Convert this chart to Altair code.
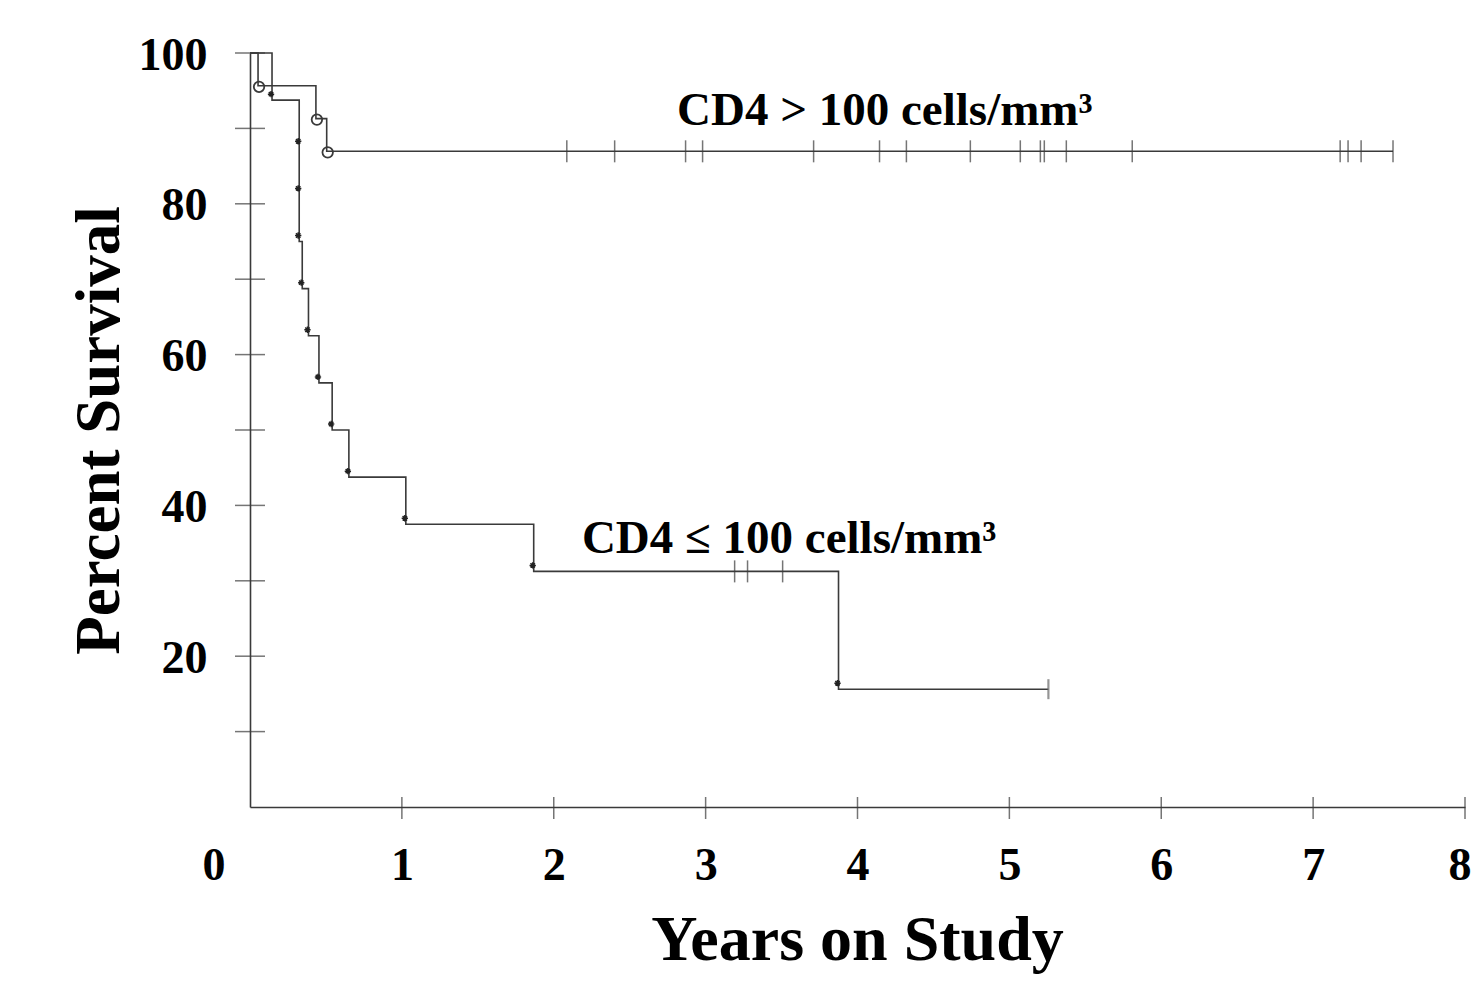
import altair as alt
import pandas as pd

# ---- CD4 > 100 cells/mm3 group ----
hi_time = [0.0, 0.053, 0.434, 0.505, 7.526]
hi_surv = [100.0, 95.65, 91.30, 86.96, 86.96]
hi_death_time = [0.053, 0.434, 0.505]
hi_death_surv = [95.65, 91.30, 86.96]
hi_censor_time = [2.086, 2.401, 2.868, 2.980, 3.711, 4.145, 4.322, 4.743, 5.072,
                  5.204, 5.230, 5.375, 5.809, 7.178, 7.230, 7.316, 7.526]
hi_censor_surv = [86.96] * len(hi_censor_time)

# ---- CD4 <= 100 cells/mm3 group ----
lo_time = [0.0, 0.145, 0.324, 0.344, 0.385, 0.454, 0.541, 0.651, 1.026, 1.868, 3.875, 5.257]
lo_surv = [100.0, 93.75, 75.0, 68.75, 62.5, 56.25, 50.0, 43.75, 37.5, 31.25, 15.625, 15.625]
lo_death_time = [0.145, 0.324, 0.324, 0.324, 0.344, 0.385, 0.454, 0.541, 0.651, 1.026, 1.868, 3.875]
lo_death_surv = [93.75, 87.5, 81.25, 75.0, 68.75, 62.5, 56.25, 50.0, 43.75, 37.5, 31.25, 15.625]
lo_censor_time = [3.191, 3.276, 3.507]
lo_censor_surv = [31.25, 31.25, 31.25]
lo_end_time = [5.257]
lo_end_surv = [15.625]

# ---- axes / annotations ----
x_tick_values = [1, 2, 3, 4, 5, 6, 7, 8]
y_tick_values = [10, 20, 30, 40, 50, 60, 70, 80, 90, 100]
y_label_values = [20, 40, 60, 80, 100]
label_text = ["CD4 > 100 cells/mm³", "CD4 ≤ 100 cells/mm³"]
label_x = [4.18, 3.55]
label_y = [90.4, 33.7]

FONT = "Liberation Serif"
INK = "#3a3a3a"

xs = alt.Scale(domain=[0, 8], nice=False, zero=False)
ys = alt.Scale(domain=[0, 100], nice=False, zero=False)

x_axis = alt.Axis(
    values=x_tick_values, ticks=False, tickSize=0, grid=False,
    domainColor=INK, domainWidth=1.6,
    labelFont=FONT, labelFontSize=46, labelFontWeight="bold", labelColor="black",
    labelPadding=36, labelFlush=True, labelFlushOffset=6, labelOverlap=False,
    title="Years on Study", titleFont=FONT, titleFontSize=64, titleFontWeight="bold",
    titleColor="black", titleX=607, titleY=152, titleBaseline="alphabetic", titleAlign="center",
)
y_axis = alt.Axis(
    values=y_label_values, ticks=False, tickSize=0, grid=False,
    domainColor=INK, domainWidth=1.6,
    labelFont=FONT, labelFontSize=46, labelFontWeight="bold", labelColor="black",
    labelPadding=43, labelFlush=False, labelOverlap=False, labelBaseline="middle",
    labelOffset=2,
    title="Percent Survival", titleFont=FONT, titleFontSize=63, titleFontWeight="bold",
    titleColor="black", titleX=-132, titleY=377, titleAngle=-90,
    titleBaseline="alphabetic", titleAlign="center",
)

def X(field):
    return alt.X(field, type="quantitative", scale=xs, axis=x_axis)

def Y(field):
    return alt.Y(field, type="quantitative", scale=ys, axis=y_axis)

curves = pd.DataFrame({
    "t": hi_time + lo_time,
    "s": hi_surv + lo_surv,
    "g": ["hi"] * len(hi_time) + ["lo"] * len(lo_time),
})

line_layer = alt.Chart(curves).mark_line(
    interpolate="step-after", color=INK, strokeWidth=1.6
).encode(x=X("t"), y=Y("s"), detail="g:N")

# axis ticks crossing the axis lines
xt = pd.DataFrame({"t": x_tick_values, "s": [0] * len(x_tick_values)})
x_ticks = alt.Chart(xt).mark_tick(
    orient="vertical", size=22, thickness=1.5, color=INK, yOffset=1
).encode(x=X("t"), y=Y("s"))

yt = pd.DataFrame({"t": [0] * len(y_tick_values), "s": y_tick_values})
y_ticks = alt.Chart(yt).mark_tick(
    orient="horizontal", size=30, thickness=1.5, color=INK
).encode(x=X("t"), y=Y("s"))

zero_lbl = alt.Chart(pd.DataFrame({"t": [0], "s": [0], "txt": ["0"]})).mark_text(
    font=FONT, fontSize=46, fontWeight="bold", color="black",
    align="center", baseline="top", dx=-36, dy=37
).encode(x=X("t"), y=Y("s"), text="txt:N")

# death markers
hi_d = pd.DataFrame({"t": hi_death_time, "s": hi_death_surv})
circles = alt.Chart(hi_d).mark_point(
    shape="circle", filled=False, size=110, strokeWidth=1.8, color=INK,
    opacity=1, xOffset=1, yOffset=1
).encode(x=X("t"), y=Y("s"))

lo_d = pd.DataFrame({"t": lo_death_time, "s": lo_death_surv})
stars = alt.Chart(lo_d).mark_point(
    shape="M-1,0L1,0M0,-1L0,1M-0.7,-0.7L0.7,0.7M-0.7,0.7L0.7,-0.7",
    filled=False, size=40, strokeWidth=1.5, color="#222", opacity=1,
    xOffset=-1, yOffset=-6
).encode(x=X("t"), y=Y("s"))

# censoring ticks
cens = pd.DataFrame({"t": hi_censor_time + lo_censor_time,
                     "s": hi_censor_surv + lo_censor_surv})
cens_ticks = alt.Chart(cens).mark_tick(
    orient="vertical", size=22, thickness=1.5, color=INK
).encode(x=X("t"), y=Y("s"))

end_df = pd.DataFrame({"t": lo_end_time, "s": lo_end_surv})
end_tick = alt.Chart(end_df).mark_tick(
    orient="vertical", size=20, thickness=2.2, color="#666"
).encode(x=X("t"), y=Y("s"))

labels = alt.Chart(pd.DataFrame({"t": label_x, "s": label_y, "txt": label_text})).mark_text(
    font=FONT, fontSize=47, fontWeight="bold", color="black",
    align="center", baseline="alphabetic"
).encode(x=X("t"), y=Y("s"), text="txt:N")

chart = alt.layer(
    line_layer, x_ticks, y_ticks, zero_lbl, cens_ticks, end_tick, circles, stars, labels
).properties(
    width=1215, height=754,
    autosize=alt.AutoSizeParams(type="none"),
    padding={"left": 242, "top": 45, "right": 7, "bottom": 169},
    background="white",
).configure_view(stroke=None)

chart.save("out.html", embed_options={"renderer": "svg", "actions": False})
